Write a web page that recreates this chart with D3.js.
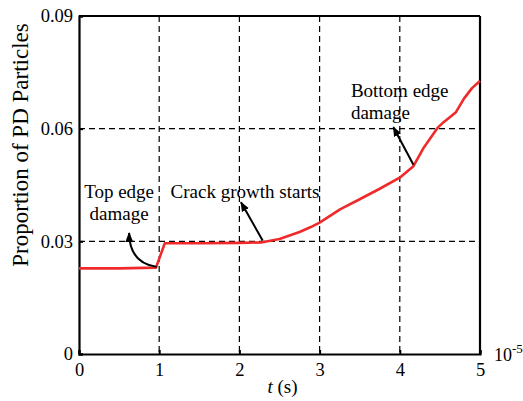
<!DOCTYPE html>
<html>
<head>
<meta charset="utf-8">
<script src="https://cdn.jsdelivr.net/npm/d3@7"></script>
<style>
  body { margin: 0; background: #fff; }
</style>
</head>
<body>
<svg id="plot" width="523" height="401"></svg>
<script>
// time in units of 1e-5 s
var tValues = [0, 0.5, 0.96, 1.07, 1.5, 2.0, 2.27, 2.5, 2.75, 2.89, 3.0, 3.26, 3.5, 3.75, 4.01, 4.17, 4.3, 4.47, 4.55, 4.7, 4.8, 4.9, 5.0];
var pdValues = [0.0228, 0.0228, 0.0230, 0.0295, 0.0295, 0.0296, 0.0297, 0.0306, 0.0325, 0.0338, 0.0350, 0.0386, 0.0412, 0.0440, 0.0471, 0.0500, 0.0550, 0.0602, 0.0618, 0.0644, 0.0680, 0.0708, 0.0727];
var xTicks = [0, 1, 2, 3, 4, 5];
var yTicks = [0, 0.03, 0.06, 0.09];
var yTickLabels = ["0", "0.03", "0.06", "0.09"];

var serif = "'Liberation Serif', 'Times New Roman', serif";

var svg = d3.select("#plot").style("font-family", serif),
  margin = {top: 16, right: 43, bottom: 47, left: 79},
  width = +svg.attr("width") - margin.left - margin.right,
  height = +svg.attr("height") - margin.top - margin.bottom,
  g = svg.append("g").attr("transform", "translate(" + margin.left + "," + margin.top + ")");

var x = d3.scaleLinear().domain([0, 5]).range([0, width]);
var y = d3.scaleLinear().domain([0, 0.09]).range([height, 0]);

// dashed grid
g.append("g")
  .selectAll("line")
  .data(xTicks.slice(1, -1))
  .enter().append("line")
  .attr("x1", function (d) { return x(d); })
  .attr("x2", function (d) { return x(d); })
  .attr("y1", 0).attr("y2", height)
  .attr("stroke", "#000").attr("stroke-width", 1.2)
  .attr("stroke-dasharray", "6,4");

g.append("g")
  .selectAll("line")
  .data(yTicks.slice(1, -1))
  .enter().append("line")
  .attr("y1", function (d) { return y(d); })
  .attr("y2", function (d) { return y(d); })
  .attr("x1", 0).attr("x2", width)
  .attr("stroke", "#000").attr("stroke-width", 1.2)
  .attr("stroke-dasharray", "6,4");

// axes
var xAxis = g.append("g")
  .attr("transform", "translate(0," + height + ")")
  .call(d3.axisBottom(x).tickValues(xTicks).tickSize(-4).tickPadding(9).tickFormat(d3.format("d")));
var yAxis = g.append("g")
  .call(d3.axisLeft(y).tickValues(yTicks).tickSize(-4).tickPadding(6)
    .tickFormat(function (d, i) { return yTickLabels[i]; }));
[xAxis, yAxis].forEach(function (a) {
  a.attr("font-family", null).style("font-family", serif);
  a.select(".domain").attr("stroke-width", 2.2);
  a.selectAll(".tick line").attr("stroke-width", 2);
  a.selectAll(".tick text").style("font-size", "18.5px").attr("fill", "#000");
});

// top & right frame
g.append("line").attr("x1", 0).attr("x2", width).attr("y1", 0).attr("y2", 0)
  .attr("stroke", "#000").attr("stroke-width", 2.2);
g.append("line").attr("x1", width).attr("x2", width).attr("y1", 0).attr("y2", height)
  .attr("stroke", "#000").attr("stroke-width", 2.2);

// the curve
var line = d3.line()
  .x(function (d, i) { return x(tValues[i]); })
  .y(function (d) { return y(d); });

g.append("path")
  .datum(pdValues)
  .attr("fill", "none")
  .attr("stroke", "#f02a2a")
  .attr("stroke-width", 2.6)
  .attr("stroke-linejoin", "round")
  .attr("d", line);

// annotations
svg.append("defs").append("marker")
  .attr("id", "arrow")
  .attr("viewBox", "0 0 10 10")
  .attr("refX", 9).attr("refY", 5)
  .attr("markerWidth", 5).attr("markerHeight", 5)
  .attr("orient", "auto")
  .append("path").attr("d", "M0,1 L10,5 L0,9 Z").attr("fill", "#000");

function note(lines, tx, ty, anchor, from, to, bend) {
  var t = g.append("text")
    .attr("text-anchor", anchor)
    .style("font-family", serif)
    .style("font-size", "19px");
  lines.forEach(function (s, i) {
    t.append("tspan").attr("x", x(tx)).attr("y", y(ty) + i * 22).text(s);
  });
  var p = d3.path();
  p.moveTo(x(from[0]), y(from[1]));
  if (bend) p.quadraticCurveTo(x(bend[0]), y(bend[1]), x(to[0]), y(to[1]));
  else p.lineTo(x(to[0]), y(to[1]));
  g.append("path").attr("d", p.toString())
    .attr("fill", "none").attr("stroke", "#000").attr("stroke-width", 2)
    .attr("marker-end", "url(#arrow)");
}

note(["Top edge", "damage"], 0.5, 0.0415, "middle", [0.97, 0.0232], [0.625, 0.0322], [0.63, 0.0242]);
note(["Crack growth starts"], 2.07, 0.0415, "middle", [2.29, 0.0302], [2.02, 0.0404]);
note(["Bottom edge", "damage"], 3.39, 0.0684, "start", [4.17, 0.0504], [3.92, 0.0604]);

// axis titles
g.append("text")
  .attr("x", x(2.5) + 3)
  .attr("y", height + 39)
  .attr("text-anchor", "middle")
  .style("font-size", "19px")
  .html('<tspan font-style="italic">t</tspan> (s)');

g.append("text")
  .attr("x", width + 14)
  .attr("y", height + 7)
  .style("font-size", "18px")
  .html('10<tspan dy="-8" font-size="13px">-5</tspan>');

svg.append("text")
  .attr("transform", "translate(28,145) rotate(-90)")
  .attr("text-anchor", "middle")
  .style("font-size", "23px")
  .text("Proportion of PD Particles");
</script>
</body>
</html>
